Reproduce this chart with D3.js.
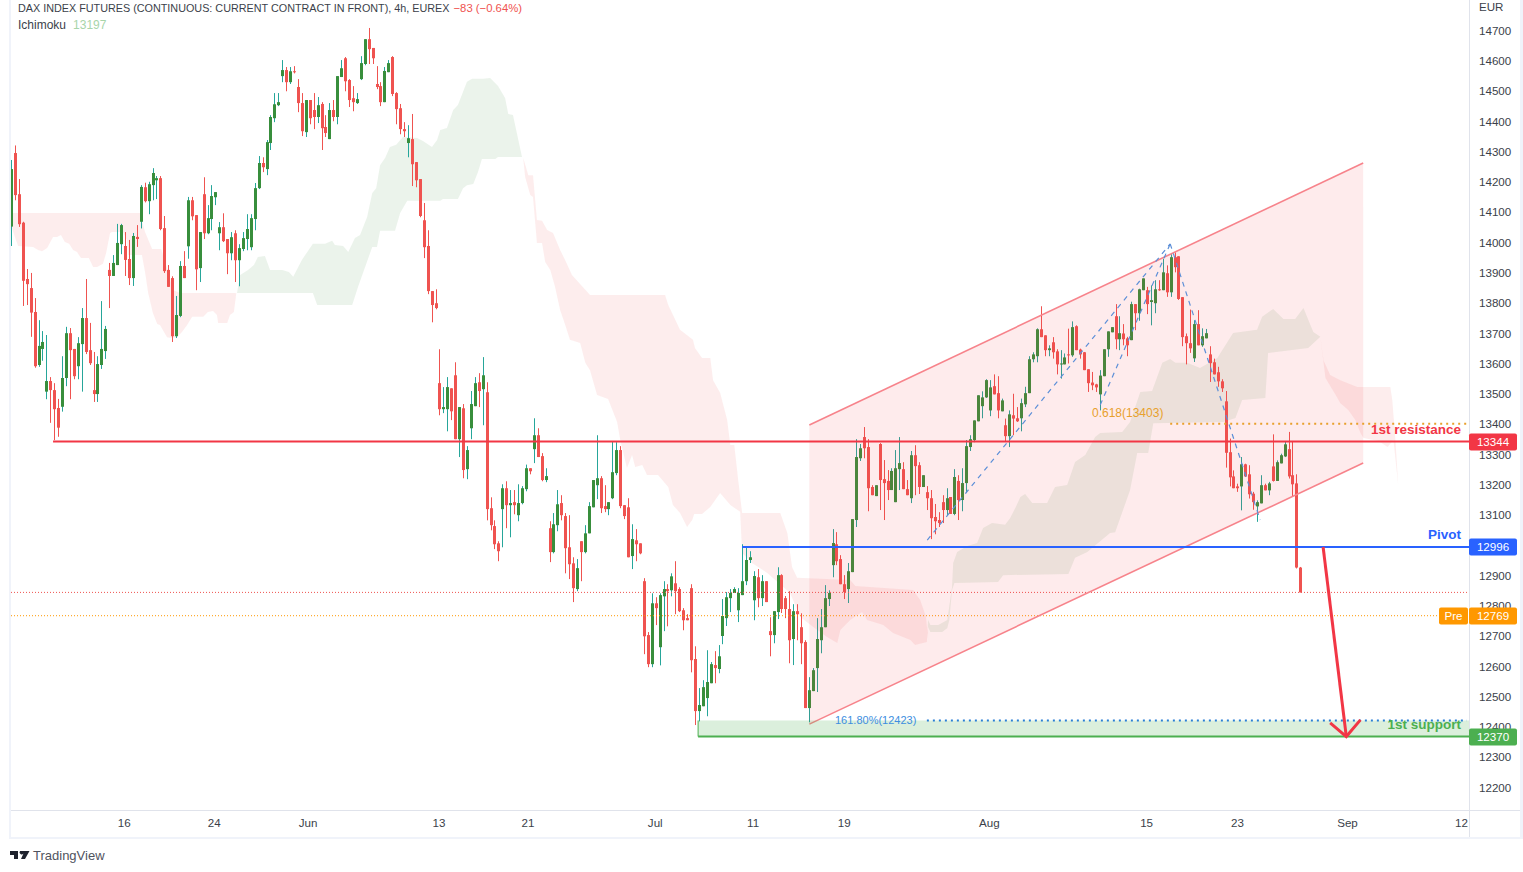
<!DOCTYPE html>
<html>
<head>
<meta charset="utf-8">
<script src="https://cdn.jsdelivr.net/npm/d3@7/dist/d3.min.js"></script>
<style>
	html, body { margin: 0; padding: 0; background: #fff; overflow: hidden; }
	text { font-family: "Liberation Sans", Arial, sans-serif; }
	.priceAxis text, .timeAxis text { font-size: 11.6px; fill: #3b3f4a; }
	.tag { font-size: 11.6px; fill: #fff; font-weight: 500; }
</style>
</head>
<body>
<div id="chart"></div>
<script>
// 4h candles
const opens = [
	14054,14297,14161,14067,13881,13851,13772,13597,13650,13509,
	13544,13514,13455,13459,13554,13702,13650,13593,13666,13752,
	13646,13514,13501,13597,13643,13911,13891,13927,13996,13990,
	13947,13884,14020,14070,14184,14138,14191,14207,14214,14049,
	13911,13884,13692,13759,13924,13989,14141,14092,13917,14161,
	14032,14079,14151,14032,14052,14013,13966,14032,13943,13980,
	14013,13986,14079,14181,14264,14244,14330,14412,14455,14551,
	14571,14531,14567,14515,14462,14366,14472,14439,14416,14459,
	14383,14343,14439,14416,14548,14610,14538,14478,14462,14541,
	14591,14673,14644,14525,14518,14465,14564,14614,14495,14445,
	14376,14330,14343,14267,14211,14075,13990,13841,13801,13537,
	13451,13451,13520,13563,13352,13454,13253,13388,13461,13540,
	13517,13507,13124,13065,13008,13121,13190,13134,13144,13101,
	13141,13187,13256,13319,13365,13296,13217,13058,12979,13068,
	13141,13098,12995,12942,12857,13015,12979,13041,13127,13200,
	13223,13131,13121,13157,13240,13316,13134,13127,12966,13018,
	13008,12883,12705,12609,12810,12665,12833,12857,12853,12876,
	12857,12787,12761,12860,12626,12454,12470,12497,12546,12606,
	12593,12702,12761,12827,12844,12787,12837,12883,12953,12820,
	12896,12827,12883,12718,12705,12781,12903,12827,12791,12692,
	12784,12731,12682,12464,12520,12596,12688,12731,12824,12936,
	13005,12956,12873,12857,12913,13085,13289,13359,13326,13194,
	13164,13336,13220,13214,13184,13144,13253,13253,13187,13157,
	13299,13266,13194,13177,13157,13095,13085,13144,13118,13161,
	13105,13214,13151,13207,13326,13349,13411,13461,13490,13447,
	13527,13504,13444,13398,13362,13431,13421,13421,13467,13504,
	13616,13626,13715,13695,13646,13672,13642,13599,13599,13632,
	13629,13725,13648,13639,13583,13539,13533,13500,13560,13649,
	13705,13758,13682,13701,13685,13679,13798,13768,13844,13844,
	13805,13801,13847,13844,13900,13837,13953,13956,13821,13692,
	13669,13619,13732,13662,13685,13632,13606,13573,13543,13477,
	13309,13229,13196,13196,13269,13236,13172,13130,13140,13200,
	13183,13262,13214,13272,13295,13319,13233,13206,12928
];
const highs = [
	14274,14322,14211,14070,13914,13901,13818,13745,13709,13696,
	13557,13537,13485,13626,13723,13719,13650,13689,13785,13881,
	13736,13640,13626,13808,13726,13934,13960,14063,14063,14036,
	14010,14033,14059,14191,14199,14202,14247,14221,14221,14089,
	13927,13890,13825,13940,13973,14152,14152,14092,14036,14217,
	14125,14191,14168,14069,14098,14013,14036,14042,13996,14036,
	14095,14095,14198,14287,14283,14340,14422,14495,14495,14604,
	14581,14581,14584,14541,14495,14472,14472,14495,14482,14465,
	14422,14462,14472,14551,14604,14614,14541,14518,14495,14617,
	14673,14710,14644,14584,14531,14581,14604,14617,14498,14459,
	14399,14389,14426,14267,14211,14132,14042,13841,13847,13649,
	13524,13557,13520,13606,13458,13468,13329,13511,13557,13570,
	13623,13540,13160,13084,13015,13203,13213,13184,13184,13203,
	13197,13268,13256,13421,13388,13306,13256,13081,13108,13184,
	13167,13108,13101,12962,12956,13015,13068,13144,13217,13365,
	13230,13200,13144,13345,13342,13329,13134,13157,13071,13055,
	13008,12893,12715,12843,12830,12843,12883,12873,12909,12949,
	12863,12794,12774,12873,12668,12530,12556,12655,12616,12652,
	12672,12824,12847,12857,12863,12860,13005,12999,12982,12916,
	12923,12903,12883,12764,12784,12929,12906,12834,12850,12807,
	12807,12777,12688,12566,12596,12761,12791,12870,12853,13055,
	13045,12969,12903,12943,13088,13352,13336,13392,13352,13200,
	13200,13339,13283,13250,13256,13316,13359,13276,13217,13313,
	13332,13276,13233,13197,13184,13138,13111,13167,13190,13161,
	13253,13233,13256,13349,13365,13414,13497,13510,13550,13547,
	13566,13560,13486,13420,13447,13502,13458,13486,13525,13626,
	13639,13718,13791,13695,13662,13689,13649,13646,13635,13717,
	13741,13728,13651,13640,13583,13574,13535,13580,13649,13708,
	13722,13798,13758,13732,13690,13806,13798,13849,13883,13855,
	13860,13877,13877,13948,13926,13963,13969,13956,13821,13701,
	13780,13745,13778,13718,13716,13659,13618,13591,13550,13511,
	13354,13249,13205,13293,13271,13266,13178,13150,13233,13205,
	13211,13368,13282,13304,13346,13376,13346,13236,12930
];
const lows = [
	13990,14141,14053,13792,13795,13690,13588,13591,13611,13484,
	13406,13349,13360,13443,13527,13484,13550,13550,13509,13633,
	13597,13475,13475,13584,13617,13785,13891,13927,13963,13891,
	13861,13858,13987,14048,14134,14095,14141,14145,14042,13901,
	13855,13673,13686,13755,13884,13948,14075,13844,13871,14013,
	14029,14042,14125,13976,14003,13897,13943,13871,13857,13973,
	13976,13976,14042,14178,14234,14224,14307,14399,14452,14531,
	14501,14525,14560,14432,14353,14350,14392,14376,14396,14307,
	14350,14343,14402,14392,14548,14501,14449,14435,14459,14538,
	14587,14591,14591,14508,14452,14465,14564,14485,14392,14359,
	14350,14283,14188,14184,14085,13950,13831,13738,13781,13431,
	13438,13378,13415,13352,13293,13223,13220,13352,13461,13458,
	13398,13084,13051,12989,12949,12995,13058,13028,13104,13081,
	13137,13180,13236,13273,13293,13213,13210,12946,12975,13048,
	13084,12909,12890,12814,12850,12883,12975,13041,13127,13154,
	13108,13111,13101,13154,13233,13124,13088,12962,12923,12949,
	12972,12642,12599,12599,12738,12605,12718,12734,12833,12774,
	12781,12721,12754,12582,12408,12420,12470,12437,12546,12546,
	12579,12675,12735,12781,12844,12748,12837,12870,12943,12754,
	12797,12801,12814,12635,12678,12758,12778,12761,12612,12606,
	12688,12609,12464,12417,12520,12517,12645,12731,12801,12896,
	12936,12873,12824,12811,12913,13062,13280,13289,13114,13167,
	13164,13118,13085,13151,13184,13144,13184,13187,13167,13141,
	13167,13171,13194,13118,13022,13038,13062,13075,13101,13105,
	13101,13085,13114,13174,13313,13342,13411,13421,13488,13428,
	13500,13421,13444,13345,13326,13365,13409,13378,13458,13504,
	13606,13606,13689,13626,13626,13618,13566,13552,13599,13602,
	13624,13646,13618,13580,13508,13514,13508,13447,13560,13624,
	13705,13649,13646,13662,13626,13679,13712,13743,13844,13765,
	13728,13768,13842,13844,13822,13822,13903,13812,13659,13599,
	13637,13607,13662,13657,13685,13541,13566,13525,13508,13258,
	13196,13190,13178,13117,13227,13156,13119,13079,13140,13183,
	13167,13212,13214,13272,13293,13222,13163,12925,12846
];
const closes = [
	14244,14158,14062,13875,13864,13770,13593,13660,13673,13544,
	13514,13451,13390,13554,13702,13646,13560,13669,13752,13640,
	13603,13501,13600,13650,13716,13891,13934,14000,14059,13944,
	13884,14023,14013,14185,14138,14194,14231,14214,14046,13907,
	13855,13692,13762,13924,13884,14141,14088,13913,14036,14032,
	14082,14155,14168,14052,14006,13966,14019,13943,13983,14016,
	14046,14082,14181,14264,14250,14333,14416,14458,14465,14571,
	14531,14567,14564,14462,14369,14472,14412,14416,14455,14379,
	14363,14439,14416,14551,14577,14534,14472,14465,14475,14594,
	14673,14640,14610,14515,14465,14568,14594,14492,14442,14376,
	14369,14346,14260,14207,14089,13986,13841,13795,13785,13451,
	13458,13524,13444,13352,13458,13250,13316,13468,13537,13511,
	13563,13121,13068,13005,12982,13190,13134,13141,13134,13141,
	13190,13256,13246,13365,13293,13217,13230,12979,13071,13137,
	13101,12992,12939,12860,12926,12979,13041,13131,13217,13223,
	13124,13121,13144,13243,13316,13131,13098,12962,13022,13005,
	12975,12701,12609,12810,12794,12837,12857,12850,12899,12850,
	12784,12754,12754,12622,12454,12474,12533,12550,12609,12596,
	12635,12768,12830,12844,12857,12844,12883,12953,12962,12900,
	12827,12883,12814,12705,12784,12903,12791,12791,12688,12784,
	12774,12678,12464,12523,12589,12692,12731,12827,12844,13009,
	12949,12873,12847,12916,13088,13293,13322,13322,13190,13167,
	13200,13217,13207,13184,13247,13256,13273,13187,13167,13299,
	13263,13194,13233,13157,13091,13081,13075,13118,13157,13105,
	13227,13151,13207,13329,13352,13414,13497,13490,13547,13523,
	13500,13447,13480,13362,13434,13420,13411,13471,13504,13616,
	13632,13715,13689,13646,13652,13639,13599,13602,13622,13629,
	13722,13646,13632,13580,13537,13530,13523,13562,13649,13708,
	13722,13682,13702,13682,13662,13798,13768,13847,13883,13798,
	13811,13847,13844,13903,13837,13953,13920,13815,13689,13669,
	13652,13732,13662,13692,13702,13603,13566,13543,13520,13307,
	13226,13190,13190,13269,13229,13170,13144,13144,13200,13183,
	13206,13214,13276,13299,13335,13229,13203,12928,12846
];

// ichimoku cloud pieces, each edge as [bar, price]
const cloudRed1Upper = [[0,14099],[32.8,14099],[34.1,14036],[35.9,13980],[38.2,13980],[39.7,13917],[41.2,13845],[43,13835],[57,13835],[57.5,13832]];
const cloudRed1Lower = [[0,14059],[1,14020],[1.8,13990],[5.6,13987],[6.9,13977],[7.9,13973],[9.2,13983],[10.7,14020],[11.7,14020],[12.7,14026],[13.7,14003],[14.8,13997],[15.8,13977],[16.8,13970],[17.8,13950],[19.8,13950],[20.9,13921],[21.9,13921],[23.4,13931],[24.2,13967],[25.2,14033],[25.7,14036],[28.5,14036],[29.5,14010],[29.8,13960],[33.3,13960],[34.1,13904],[34.9,13835],[36.1,13769],[37.2,13732],[37.9,13729],[39.7,13689],[41,13686],[42.2,13689],[43.5,13706],[44.8,13729],[46.1,13756],[48.9,13756],[50.1,13772],[51.4,13775],[52.4,13762],[52.7,13736],[55,13736],[55.7,13762],[56.7,13772],[57.3,13832]];
const cloudGreen1Upper = [[57.5,13835],[58.3,13894],[60.3,13911],[61.8,13927],[62.8,13954],[64.6,13957],[65.9,13911],[69,13911],[70.7,13904],[71.8,13888],[74,13944],[76.8,13997],[79.9,13997],[81.7,14007],[82.4,13993],[84.5,13990],[85.8,13970],[87.5,14016],[88.8,14026],[90.6,14086],[91.9,14165],[92.9,14181],[93.9,14257],[95.2,14281],[96.4,14317],[98,14324],[99.7,14350],[103.3,14347],[104.8,14337],[107.1,14317],[108.4,14340],[109.2,14373],[110.9,14380],[112.5,14439],[113.7,14456],[116,14532],[117.3,14542],[120.1,14542],[121.9,14545],[123.9,14518],[125.7,14479],[126.5,14426],[127.7,14423],[130,14284]];
const cloudGreen1Lower = [[57.5,13835],[76.8,13835],[77.9,13795],[86.8,13795],[88.3,13855],[91.9,13987],[93.1,13987],[93.9,14040],[97.7,14040],[99,14099],[100.8,14139],[109.2,14139],[109.9,14145],[113.7,14145],[115,14181],[116,14191],[117.6,14195],[118.8,14234],[119.8,14277],[123.2,14277],[123.9,14284],[130,14284]];
const cloudRed2Upper = [[130.3,14281],[131.6,14224],[132.8,14224],[133.8,14076],[135.1,14073],[136.4,14043],[137.9,14033],[139.7,13977],[141.2,13937],[142.7,13894],[147.3,13828],[166.4,13828],[167.2,13795],[170.2,13713],[173.5,13680],[174,13653],[175.8,13620],[177.9,13620],[178.6,13547],[180.4,13505],[182.2,13415],[183,13333],[184,13333],[185,13217],[186,13108],[195.7,13108],[197.5,13042],[198.7,12930],[200,12894],[213.5,12887],[214.8,12867],[229.5,12854],[231.3,12821],[232.8,12765],[233.3,12689]];
const cloudRed2Lower = [[130.8,14218],[132.1,14158],[132.8,14152],[133.8,14000],[135.1,14000],[135.9,13937],[137.2,13911],[138.4,13855],[139.7,13779],[141,13729],[142.2,13680],[144.8,13670],[146.1,13604],[147.3,13580],[149.1,13498],[151.9,13485],[154.2,13409],[155,13349],[156.7,13257],[158,13300],[158.8,13260],[160.6,13267],[161.8,13234],[164.6,13234],[167.2,13194],[168.4,13135],[170.2,13108],[172,13062],[173.3,13085],[173.8,13105],[175.8,13105],[177.9,13128],[180.4,13174],[183,13135],[185.5,13112],[186,12976],[188.5,12943],[192.4,12910],[198.2,12844],[200.8,12765],[204.1,12732],[207.6,12699],[210.2,12679],[211,12722],[213.5,12755],[216.5,12781],[217.8,12755],[221.9,12738],[224.4,12712],[228.8,12689],[230,12672],[233,12682],[233.3,12755]];
const cloudGreen2Upper = [[233.3,12755],[233.9,12738],[235.9,12738],[238.2,12755],[239.4,12864],[239.7,12943],[240.7,12979],[243.3,12999],[245.8,13009],[247.3,13059],[249.6,13075],[252.9,13069],[254.2,13092],[255.5,13125],[256.8,13161],[258,13171],[259.8,13141],[263.6,13141],[265.6,13194],[268.7,13201],[270.7,13277],[273.3,13300],[275.8,13359],[277.1,13372],[282.7,13376],[284.7,13409],[287.3,13508],[290.3,13511],[292.9,13604],[294.9,13617],[296.2,13604],[299.2,13604],[302.5,13587],[306.9,13620],[310.9,13703],[317,13713],[318.3,13756],[321.1,13782],[323.7,13749],[326.7,13749],[328.8,13785],[331.3,13706],[333.1,13690]];
const cloudGreen2Lower = [[233.3,12732],[233.9,12715],[236.9,12715],[238.2,12728],[238.7,12755],[239.4,12854],[240,12877],[251.1,12880],[252.4,12903],[269,12907],[270.7,12960],[273.8,12979],[279.6,13042],[280.9,13045],[284.7,13184],[286.5,13306],[289.3,13306],[290.6,13405],[308.4,13409],[311.5,13422],[313.2,13481],[319.1,13488],[319.8,13637],[330,13653],[333.1,13690]];
const cloudRed3Upper = [[333.1,13690],[333.9,13613],[335.6,13564],[338.2,13547],[342.5,13524],[350.9,13524],[351.4,13481],[352.2,13349],[352.9,13201]];
const cloudRed3Lower = [[333.1,13690],[334.4,13554],[337,13498],[338.2,13471],[340.2,13448],[342,13415],[343.3,13372],[344.1,13356],[347.9,13346],[350.2,13326],[351.7,13349],[352.9,13201]];

// drawings on top of the chart
const channelUpper = [[203.1,13399],[344,14264]];
const channelLower = [[203.1,12411],[344,13273]];
const abcdLines = [
	[[233.1,13019],[294.9,13997]],
	[[277.1,13465],[294.9,13997]],
	[[294.9,13997],[317.8,13085]]
];
const arrowShaft = [[333.8,12996],[339.7,12370]];
const arrowHead = [[335.6,12415],[339.7,12370],[343.3,12425]];

const resistanceLevel = 13344, pivotLevel = 12996, supportLevel = 12370;
const fibUp = 13403, fibDown = 12423, lastPrice = 12846, prePrice = 12769;
const resistanceStart = 10.7, pivotStart = 186, supportStart = 174.8;
const fibUpStart = 294.9, fibDownStart = 233;

const priceTicks = d3.range(12200, 14701, 100);
const timeTickBars = [28.8,51.7,75.6,108.9,131.5,163.9,188.8,212,248.9,288.9,312,340,369];
const timeTickLabels = ['16','24','Jun','13','21','Jul','11','19','Aug','15','23','Sep','12'];

const width = 1523, height = 872, axisX = 1469, timeY = 810;

const x = d3.scaleLinear().domain([0, 328]).range([11, 1300.3]);
const y = d3.scaleLinear().domain([12200, 14700]).range([788, 31]);

const svg = d3.select('#chart').append('svg')
	.attr('width', width)
	.attr('height', height)
	.style('display', 'block');

svg.append('clipPath').attr('id', 'pane')
	.append('rect').attr('x', 11).attr('y', 0).attr('width', axisX - 11).attr('height', timeY);

const pane = svg.append('g').attr('clip-path', 'url(#pane)');
const pts = d3.line().x(d => x(d[0])).y(d => y(d[1]));

function cloud(upper, lower, fill){
	pane.append('path')
		.attr('d', pts(upper.concat(lower.slice().reverse())) + 'Z')
		.attr('fill', fill);
}
const cloudRed = 'rgba(239,83,80,.1)', cloudGreen = 'rgba(56,142,60,.1)';
cloud(cloudRed1Upper, cloudRed1Lower, cloudRed);
cloud(cloudGreen1Upper, cloudGreen1Lower, cloudGreen);
cloud(cloudRed2Upper, cloudRed2Lower, cloudRed);
cloud(cloudGreen2Upper, cloudGreen2Lower, cloudGreen);
cloud(cloudRed3Upper, cloudRed3Lower, cloudRed);

// Candles: pixel-snapped so the 3px bodies stay sharp like the original
const candles = pane.append('g').selectAll('g')
	.data(opens.map((o, i) => ({i, o, h: highs[i], l: lows[i], c: closes[i]})))
	.enter().append('g');

candles.append('rect')
	.attr('x', d => Math.round(x(d.i)))
	.attr('width', 1)
	.attr('y', d => y(d.h))
	.attr('height', d => y(d.l) - y(d.h))
	.attr('fill', d => d.c >= d.o ? '#26a69a' : '#ef5350');

candles.append('rect')
	.attr('x', d => Math.round(x(d.i)) - 1)
	.attr('width', 3)
	.attr('y', d => y(Math.max(d.o, d.c)))
	.attr('height', d => Math.max(1, Math.abs(y(d.o) - y(d.c))))
	.attr('fill', d => d.c >= d.o ? '#388e3c' : '#ef5350');

// Price lines
function hline(price, fromX, toX, color, w, dash){
	pane.append('line')
		.attr('x1', fromX).attr('x2', toX)
		.attr('y1', y(price)).attr('y2', y(price))
		.attr('stroke', color).attr('stroke-width', w)
		.attr('stroke-dasharray', dash || null);
}
hline(lastPrice, 11, axisX, '#ef5350', 1, '1 2');
hline(prePrice, 11, 1440, '#ff9800', 1, '1 2');

// Channel
pane.append('path')
	.attr('d', pts(channelUpper.concat(channelLower.slice().reverse())) + 'Z')
	.attr('fill', 'rgba(242,54,69,.1)');
[channelUpper, channelLower].forEach(l => {
	pane.append('path').attr('d', pts(l)).attr('fill', 'none')
		.attr('stroke', '#f7838b').attr('stroke-width', 1.6);
});

abcdLines.forEach(l => {
	pane.append('path').attr('d', pts(l)).attr('fill', 'none')
		.attr('stroke', '#5c8fd8').attr('stroke-width', 1.2).attr('stroke-dasharray', '5 5');
});

// Support zone
pane.append('rect')
	.attr('x', x(supportStart)).attr('width', axisX - x(supportStart))
	.attr('y', y(fibDown)).attr('height', y(supportLevel) - y(fibDown))
	.attr('fill', 'rgba(76,175,80,.2)');
pane.append('line')
	.attr('x1', x(supportStart)).attr('x2', x(supportStart))
	.attr('y1', y(fibDown)).attr('y2', y(supportLevel))
	.attr('stroke', '#4caf50').attr('stroke-width', 1);

hline(resistanceLevel, x(resistanceStart), axisX, '#f23645', 2);
hline(pivotLevel, x(pivotStart), axisX, '#2962ff', 2);
hline(supportLevel, x(supportStart), axisX, '#4caf50', 2);
hline(fibUp, x(fibUpStart), axisX - 2, '#e8a02c', 2, '2 4');
hline(fibDown, x(fibDownStart), axisX - 2, '#2a7fd5', 2, '2 4');

// Arrow to first support
[arrowShaft, arrowHead].forEach(l => {
	pane.append('path').attr('d', pts(l)).attr('fill', 'none')
		.attr('stroke', '#f23645').attr('stroke-width', 3);
});

// Drawing texts
function note(txt, tx, ty, color, anchor, size, weight){
	svg.append('text').text(txt)
		.attr('x', tx).attr('y', ty)
		.attr('dy', '.35em')
		.attr('text-anchor', anchor)
		.attr('fill', color)
		.style('font-size', size + 'px')
		.style('font-weight', weight || 400);
}
note('0.618(13403)', 1092, 413, '#e8a02c', 'start', 12);
note('161.80%(12423)', 835, 720, '#3d8ee0', 'start', 11);
note('1st resistance', 1461, 429, '#f23645', 'end', 13.5, 700);
note('Pivot', 1461, 534, '#2962ff', 'end', 13.5, 700);
note('1st support', 1461, 724, '#4caf50', 'end', 13.5, 700);

// Frame
const frame = '#f0f3fa', rule = '#e0e3eb';
svg.append('rect').attr('x', 9).attr('y', 0).attr('width', 2).attr('height', 839).attr('fill', frame);
svg.append('rect').attr('x', 9).attr('y', 837).attr('width', 1514).attr('height', 2).attr('fill', frame);
svg.append('rect').attr('x', 1520).attr('y', 0).attr('width', 3).attr('height', 839).attr('fill', frame);
svg.append('rect').attr('x', 11).attr('y', timeY).attr('width', 1509).attr('height', 1).attr('fill', rule);
svg.append('rect').attr('x', axisX).attr('y', 0).attr('width', 1).attr('height', 837).attr('fill', rule);

// Axes
svg.append('g').attr('class', 'priceAxis')
	.attr('transform', `translate(${axisX},0)`)
	.call(d3.axisRight(y).tickValues(priceTicks).tickSize(0).tickPadding(10).offset(0).tickFormat(d3.format('d')))
	.call(g => g.select('.domain').remove());

svg.append('g').attr('class', 'timeAxis')
	.attr('transform', `translate(0,${timeY})`)
	.call(d3.axisBottom(x).tickValues(timeTickBars).tickSize(0).tickPadding(9).offset(0)
		.tickFormat((d, i) => timeTickLabels[i]))
	.call(g => g.select('.domain').remove());

svg.append('text').text('EUR')
	.attr('x', 1479).attr('y', 7).attr('dy', '.35em')
	.attr('fill', '#3b3f4a').style('font-size', '11.6px');

// Axis tags
function tag(price, color, bx, bw, txt){
	const cy = Math.round(y(price));
	svg.append('rect')
		.attr('x', bx).attr('y', cy - 8.5)
		.attr('width', bw).attr('height', 17)
		.attr('rx', 2)
		.attr('fill', color);
	svg.append('text').attr('class', 'tag').text(txt)
		.attr('x', bx + bw / 2).attr('y', cy)
		.attr('dy', '.35em')
		.attr('text-anchor', 'middle');
}
tag(resistanceLevel, '#f23645', 1469, 48, d3.format('d')(resistanceLevel));
tag(pivotLevel, '#2962ff', 1469, 48, d3.format('d')(pivotLevel));
tag(prePrice, '#ff9800', 1469, 48, d3.format('d')(prePrice));
tag(prePrice, '#ff9800', 1439, 29, 'Pre');
tag(supportLevel, '#4caf50', 1469, 48, d3.format('d')(supportLevel));

// Legend
const title = svg.append('text').attr('x', 18).attr('y', 8).attr('dy', '.35em').style('font-size', '10.8px');
title.append('tspan').attr('fill', '#3b3f4a').text('DAX INDEX FUTURES (CONTINUOUS: CURRENT CONTRACT IN FRONT), 4h, EUREX');
title.append('tspan').attr('fill', '#ef5350').attr('dx', 4).style('font-size', '11.3px').text('\u221283 (\u22120.64%)');

const legend = svg.append('text').attr('x', 18).attr('y', 25).attr('dy', '.35em').style('font-size', '12px');
legend.append('tspan').attr('fill', '#3b3f4a').text('Ichimoku');
legend.append('tspan').attr('fill', '#a8d5aa').attr('dx', 7).text('13197');

// TradingView mark
svg.append('path')
	.attr('d', 'M10 851h8v8h-4v-4h-4zM20 851h9.5l-4.5 8h-4l2.5-5.5a1.6 1.6 0 1 1-3.5-2.5z')
	.attr('fill', '#1e222d');
svg.append('text').text('TradingView')
	.attr('x', 33).attr('y', 855).attr('dy', '.35em')
	.attr('fill', '#50535e')
	.style('font-size', '13px');
</script>
</body>
</html>
